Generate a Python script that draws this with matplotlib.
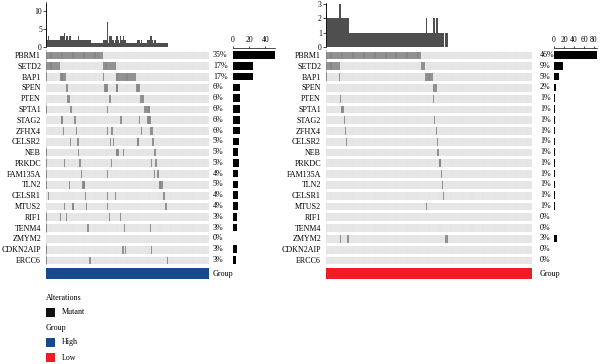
import numpy as np
import matplotlib
matplotlib.use('Agg')
import matplotlib.pyplot as plt
from matplotlib.colors import ListedColormap
from matplotlib.patches import Rectangle

plt.rcParams['font.family'] = ['Liberation Serif', 'DejaVu Serif']

genes = ['PBRM1', 'SETD2', 'BAP1', 'SPEN', 'PTEN', 'SPTA1', 'STAG2', 'ZFHX4',
         'CELSR2', 'NEB', 'PRKDC', 'FAM135A', 'TLN2', 'CELSR1', 'MTUS2', 'RIF1',
         'TENM4', 'ZMYM2', 'CDKN2AIP', 'ERCC6']

n_high = 148
n_low = 187

# mutated samples per gene as (first, last) spans, samples in oncoplot order
high_spans = [
    [(0, 51)],
    [(0, 12), (52, 63)],
    [(0, 0), (13, 17), (52, 52), (64, 81)],
    [(18, 19), (53, 55), (64, 64), (82, 84)],
    [(19, 21), (57, 58), (85, 88)],
    [(0, 0), (22, 23), (55, 55), (89, 93)],
    [(14, 14), (25, 26), (67, 68), (84, 84), (92, 94)],
    [(15, 15), (27, 27), (55, 55), (59, 60), (86, 86), (94, 96)],
    [(22, 22), (28, 29), (58, 58), (61, 61), (83, 83), (96, 97)],
    [(0, 0), (29, 29), (64, 65), (70, 70), (98, 99)],
    [(0, 0), (16, 16), (30, 31), (59, 59), (95, 95), (99, 100)],
    [(0, 0), (32, 32), (55, 55), (98, 98), (101, 102)],
    [(0, 0), (21, 21), (33, 34), (103, 105)],
    [(2, 2), (35, 35), (55, 55), (63, 63), (106, 107)],
    [(16, 16), (24, 24), (36, 36), (55, 55), (108, 109)],
    [(0, 0), (13, 13), (18, 18), (57, 57), (67, 67)],
    [(0, 0), (37, 38), (71, 71), (94, 94)],
    [],
    [(0, 0), (69, 70), (72, 72), (95, 95)],
    [(0, 0), (39, 40), (110, 110)],
]

low_spans = [
    [(0, 85)],
    [(0, 12), (86, 89)],
    [(0, 0), (12, 12), (90, 96)],
    [(97, 100)],
    [(13, 13), (97, 97)],
    [(14, 15)],
    [(16, 16), (98, 98)],
    [(17, 17), (100, 100)],
    [(18, 18), (101, 101)],
    [(101, 102)],
    [(103, 103)],
    [(104, 104)],
    [(105, 105)],
    [(106, 106)],
    [(91, 91)],
    [],
    [],
    [(13, 13), (19, 20), (108, 110)],
    [],
    [],
]

W, H = 600, 364
fig = plt.figure(figsize=(W / 100, H / 100), dpi=100)


def px_axes(x0, y0, x1, y1):
    return fig.add_axes([x0 / W, 1 - y1 / H, (x1 - x0) / W, (y1 - y0) / H])


def build_matrix(spans, n):
    m = np.zeros((len(genes), n))
    for g, gs in enumerate(spans):
        for a, b in gs:
            m[g, a:b + 1] = 1
    return m


row_top, row_bot = 49.6, 265.4
tick_fs = 5.5
lab_fs = 5.8


def draw_panel(spans, n, hx0, hx1, top_y0, top_ymax, top_ticks, bx0, bx1, bmax,
               bticks, group_color, pct_x):
    mat = build_matrix(spans, n)
    per_sample = mat.sum(axis=0)
    per_gene = mat.sum(axis=1)

    # top barplot: mutations per sample
    axt = px_axes(hx0, top_y0, hx1, 47)
    axt.bar(np.arange(n), per_sample, width=1.0, color='#4f4f4f', linewidth=0)
    axt.set_xlim(-0.5, n - 0.5)
    axt.set_ylim(0, top_ymax)
    axt.set_yticks(top_ticks)
    axt.tick_params(axis='y', labelsize=tick_fs, length=2, width=0.5, pad=1)
    axt.set_xticks([])
    for s in ['top', 'right', 'bottom']:
        axt.spines[s].set_visible(False)
    axt.spines['left'].set_linewidth(0.5)
    axt.patch.set_alpha(0)

    # oncoplot heatmap
    axh = px_axes(hx0, row_top, hx1, row_bot)
    axh.imshow(mat, aspect='auto', interpolation='nearest',
               cmap=ListedColormap(['#e2e2e2', '#7c7c7c']), vmin=0, vmax=1)
    axh.vlines(np.arange(n) + 0.5, -0.5, len(genes) - 0.5, color='white',
               lw=0.2, alpha=0.6)
    axh.hlines(np.arange(-1, len(genes)) + 0.5, -0.5, n - 0.5, color='white', lw=2.2)
    axh.set_xlim(-0.5, n - 0.5)
    axh.set_ylim(len(genes) - 0.5, -0.5)
    axh.set_xticks([])
    axh.set_yticks(np.arange(len(genes)))
    axh.set_yticklabels(genes, fontsize=lab_fs)
    axh.tick_params(axis='y', length=0, pad=3.6)
    for s in axh.spines.values():
        s.set_visible(False)

    for g in range(len(genes)):
        pct = 100 * per_gene[g] / n
        yc = row_top + (g + 0.5) * (row_bot - row_top) / len(genes)
        fig.text(pct_x / W, 1 - yc / H, f'{pct:.0f}%', fontsize=lab_fs,
                 ha='left', va='center')

    # side barplot: mutated samples per gene
    axb = px_axes(bx0, row_top, bx1, row_bot)
    axb.barh(np.arange(len(genes)), per_gene, height=0.7, color='black')
    axb.set_ylim(len(genes) - 0.5, -0.5)
    axb.set_xlim(0, bmax)
    axb.set_xticks(bticks)
    axb.xaxis.tick_top()
    axb.tick_params(axis='x', labelsize=tick_fs, length=1.5, width=0.5, pad=1)
    axb.set_yticks([])
    for s in ['bottom', 'left', 'right']:
        axb.spines[s].set_visible(False)
    axb.spines['top'].set_linewidth(0.5)
    axb.spines['top'].set_position(('outward', 1.5))
    axb.patch.set_alpha(0)

    # group annotation
    axg = px_axes(hx0, 268, hx1, 279)
    axg.bar(np.arange(n), np.ones(n), width=1.0, color=group_color, linewidth=0)
    axg.set_xlim(-0.5, n - 0.5)
    axg.set_ylim(0, 1)
    axg.axis('off')
    fig.text(pct_x / W, 1 - 274 / H, 'Group', fontsize=lab_fs, ha='left', va='center')


draw_panel(high_spans, n_high, 46, 209, 2, 12.5, [0, 5, 10], 232.7, 275, 52,
           [0, 20, 40], '#164a8a', 213)
draw_panel(low_spans, n_low, 326, 532, 3.3, 3.05, [0, 1, 2, 3], 554, 597, 86,
           [0, 20, 40, 60, 80], '#ee1d25', 540)

# legend
legend_items = [('Alterations', None, 298), ('Mutant', '#111111', 312),
                ('Group', None, 327.5), ('High', '#164a8a', 342), ('Low', '#ee1d25', 357.5)]
for label, col, yc in legend_items:
    if col is None:
        fig.text(46 / W, 1 - yc / H, label, fontsize=lab_fs, ha='left', va='center')
    else:
        fig.add_artist(Rectangle((46 / W, 1 - (yc + 4.5) / H), 9 / W, 9 / H,
                                 transform=fig.transFigure, color=col, lw=0))
        fig.text(62 / W, 1 - yc / H, label, fontsize=lab_fs, ha='left', va='center')

fig.savefig('out.png', dpi=100)
